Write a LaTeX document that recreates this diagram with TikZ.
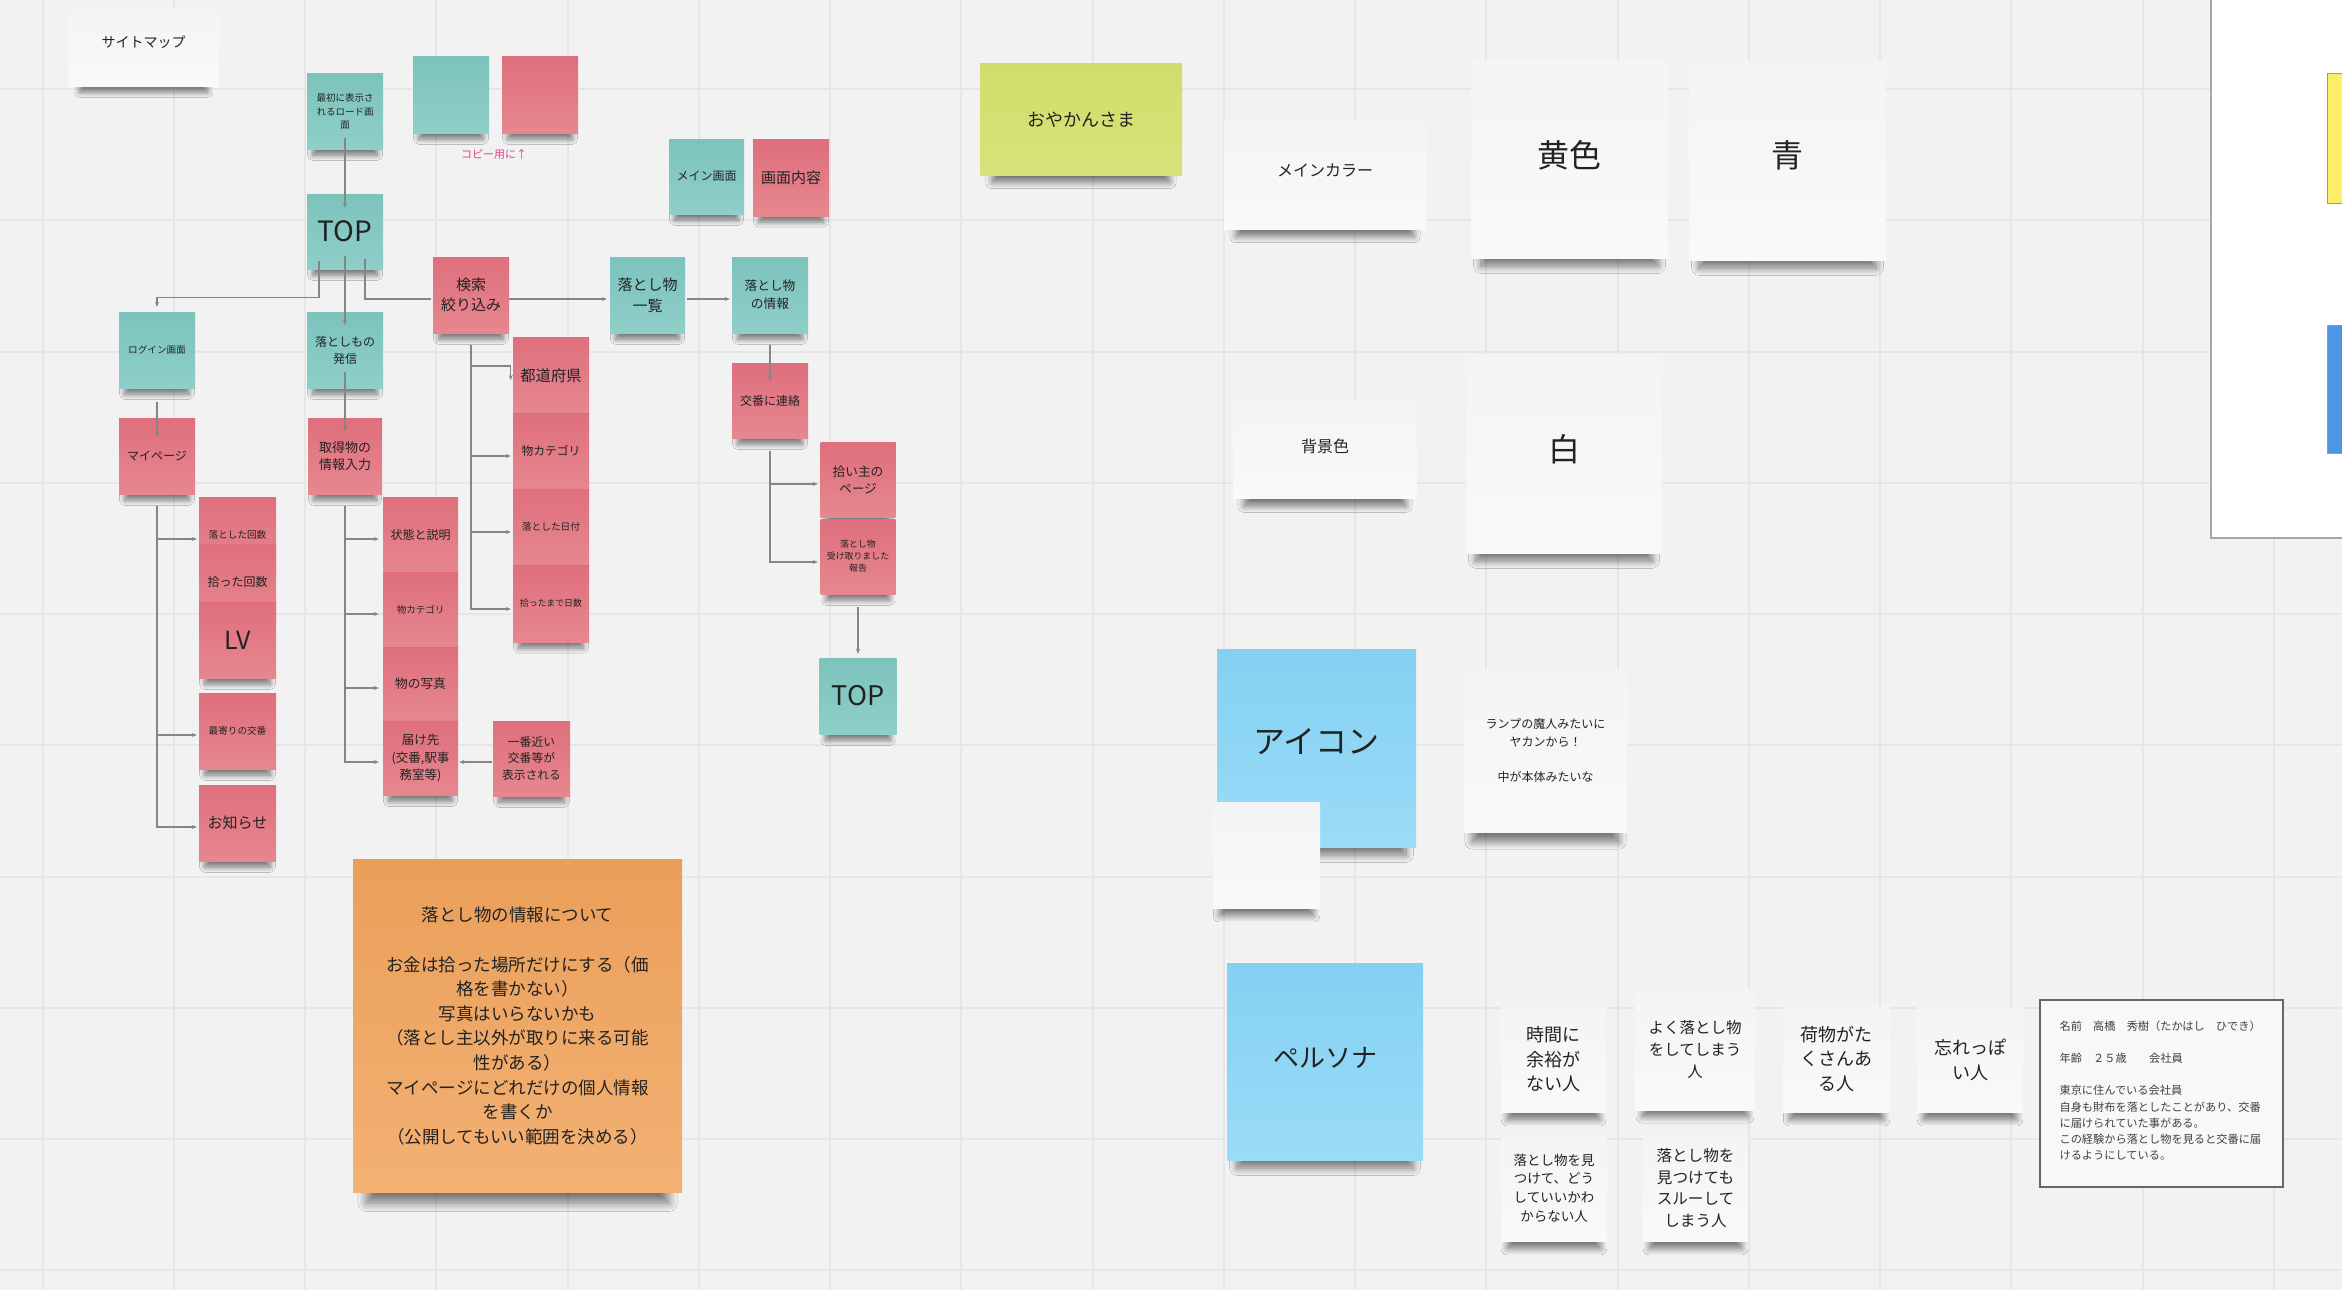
\documentclass[tikz,border=0pt]{standalone}
\usepackage{fontspec}
\setmainfont{Noto Sans CJK JP}
\usetikzlibrary{arrows.meta,shadows.blur}

\definecolor{board}{HTML}{F2F2F2}
\definecolor{gridc}{HTML}{E6E6E6}
\definecolor{tealA}{HTML}{7CC3BC}
\definecolor{tealB}{HTML}{8FCEC9}
\definecolor{pinkA}{HTML}{DF6F7D}
\definecolor{pinkB}{HTML}{E6878F}
\definecolor{blueA}{HTML}{84D0F1}
\definecolor{blueB}{HTML}{9ADCF8}
\definecolor{whiteA}{HTML}{F3F4F6}
\definecolor{whiteB}{HTML}{F8F9FA}
\definecolor{orangeA}{HTML}{EA9F59}
\definecolor{orangeB}{HTML}{F3B174}
\definecolor{limeA}{HTML}{CFDE6B}
\definecolor{limeB}{HTML}{D7E379}
\definecolor{inkc}{HTML}{222222}
\definecolor{linkc}{HTML}{858585}
\definecolor{copyc}{HTML}{E0468A}
\definecolor{swatchY}{HTML}{FCEF66}
\definecolor{swatchB}{HTML}{4D95E5}

\newcommand\fsz[2]{\fontsize{#1}{#2}\selectfont}
% lift a one-line label above the middle of its note
\newcommand\lift[2]{\raisebox{#1}{#2}}

\tikzset{
  gridline/.style={draw=gridc, line width=2pt},
  note/.style 2 args={inner sep=0pt, align=center, text=inkc,
    minimum width=#1pt, minimum height=#2pt},
  smallshadow/.style={blur shadow={shadow xshift=0pt, shadow yshift=-14pt,
    shadow scale=0.85, shadow opacity=50, shadow blur radius=6pt, shadow blur steps=12}},
  midshadow/.style={blur shadow={shadow xshift=0pt, shadow yshift=-16pt,
    shadow scale=0.88, shadow opacity=50, shadow blur radius=7pt, shadow blur steps=12}},
  bigshadow/.style={blur shadow={shadow xshift=0pt, shadow yshift=-20pt,
    shadow scale=0.9, shadow opacity=50, shadow blur radius=8pt, shadow blur steps=14}},
  hugeshadow/.style={blur shadow={shadow xshift=0pt, shadow yshift=-26pt,
    shadow scale=0.92, shadow opacity=50, shadow blur radius=9pt, shadow blur steps=14}},
  tealnote/.style={top color=tealA, bottom color=tealB},
  pinknote/.style={top color=pinkA, bottom color=pinkB},
  bluenote/.style={top color=blueA, bottom color=blueB},
  whitenote/.style={top color=whiteA, bottom color=whiteB, text=black!80},
  orangenote/.style={top color=orangeA, bottom color=orangeB, text=black!80},
  limenote/.style={top color=limeA, bottom color=limeB},
  conn/.style={draw=linkc, line width=1.2pt},
  arr/.style={conn, -{Stealth[length=5pt,width=4pt]}},
}

\begin{document}
\begin{tikzpicture}[x=1pt, y=-1pt]
\useasboundingbox (0,0) rectangle (2342,1290);
\clip (0,0) rectangle (2342,1290);

% board and grid
\fill[board] (0,0) rectangle (2342,1290);
\foreach \i in {0,...,17} \draw[gridline] ({42.5+131.25*\i},0) -- ++(0,1290);
\foreach \j in {0,...,9} \draw[gridline] (0,{89+131.25*\j}) -- ++(2342,0);

% palette frame at the right edge
\draw[draw=black!35, line width=1.5pt, fill=white] (2211,-5) rectangle (2360,538);
\draw[draw=black!40, line width=1pt, fill=swatchY] (2327,74) rectangle (2360,203);
\draw[draw=black!40, line width=1pt, fill=swatchB] (2327,325) rectangle (2360,453);

% ---------------- site map ----------------
\node[whitenote, smallshadow, note={151}{76}, font=\fsz{14}{18}] (sitemap) at (143.5,48) {\lift{12pt}{サイトマップ}};
\node[tealnote, smallshadow, note={76}{75}, font=\fsz{9.5}{13.5}] (load) at (345,111.5) {最初に表示さ\\れるロード画\\面};
\node[tealnote, smallshadow, note={76}{76}] (blankteal) at (451,95) {};
\node[pinknote, smallshadow, note={76}{76}] (blankpink) at (540,95) {};
\node[text=copyc, font=\fsz{11}{14}, inner sep=0pt] (copynote) at (494,154) {コピー用に↑};
\node[tealnote, smallshadow, note={76}{75}, font=\fsz{28}{32}] (top) at (345,231.5) {TOP};

\node[tealnote, smallshadow, note={75}{75}, font=\fsz{12}{15}] (mainscreen) at (706.5,176.5) {メイン画面};
\node[pinknote, smallshadow, note={76}{77}, font=\fsz{15}{18}] (content) at (791,177.5) {画面内容};
\node[limenote, midshadow, note={202}{111}, font=\fsz{18}{22}] (okan) at (1081,119.5) {おやかんさま};

\node[tealnote, smallshadow, note={76}{76}, font=\fsz{9.6}{13}] (login) at (157,350) {ログイン画面};
\node[tealnote, smallshadow, note={76}{76}, font=\fsz{12}{17}] (hassin) at (345,350) {落としもの\\発信};
\node[pinknote, smallshadow, note={76}{76}, font=\fsz{15}{20}] (search) at (471,295) {検索\\絞り込み};
\node[tealnote, smallshadow, note={75}{76}, font=\fsz{15}{21}] (list) at (647.5,295) {落とし物\\一覧};
\node[tealnote, smallshadow, note={76}{76}, font=\fsz{12.7}{18}] (info) at (770,295) {落とし物\\の情報};

\node[pinknote, smallshadow, note={76}{76}, font=\fsz{12}{15}] (mypage) at (157,456) {マイページ};
\node[pinknote, smallshadow, note={74}{76}, font=\fsz{13}{17}] (toku) at (345,456) {取得物の\\情報入力};

% search filters
\node[pinknote, smallshadow, note={76}{76}, font=\fsz{15.3}{18}] (pref) at (551,375.5) {都道府県};
\node[pinknote, smallshadow, note={76}{76}, font=\fsz{11.8}{15}] (cat1) at (551,451) {物カテゴリ};
\node[pinknote, smallshadow, note={76}{76}, font=\fsz{9.7}{12}] (date) at (551,527) {落とした日付};
\node[pinknote, smallshadow, note={76}{77}, font=\fsz{8.9}{12}] (days) at (551,603.5) {拾ったまで日数};

% item detail branch
\node[pinknote, smallshadow, note={76}{75}, font=\fsz{12}{15}] (koban) at (770,400.5) {交番に連絡};
\node[pinknote, smallshadow, note={75}{75}, font=\fsz{12.7}{17}] (owner) at (858,479.5) {拾い主の\\ページ};
\node[pinknote, smallshadow, note={75}{75}, font=\fsz{8.9}{12}] (report) at (858,556.5) {落とし物\\受け取りました\\報告};
\node[tealnote, smallshadow, note={77}{76}, font=\fsz{27}{32}] (top2) at (858,696) {TOP};

% my page contents
\node[pinknote, smallshadow, note={77}{76}, font=\fsz{9.6}{12}] (drop) at (237.5,535) {落とした回数};
\node[pinknote, smallshadow, note={77}{76}, font=\fsz{12}{15}] (pick) at (237.5,582) {拾った回数};
\node[pinknote, smallshadow, note={77}{76}, font=\fsz{25}{30}] (lv) at (237.5,640) {LV};
\node[pinknote, smallshadow, note={77}{76}, font=\fsz{9.6}{12}] (near) at (237.5,731) {最寄りの交番};
\node[pinknote, smallshadow, note={77}{76}, font=\fsz{15}{18}] (news) at (237.5,823) {お知らせ};

% found item input fields
\node[pinknote, smallshadow, note={75}{75}, font=\fsz{12}{15}] (state) at (420.5,534.5) {状態と説明};
\node[pinknote, smallshadow, note={75}{75}, font=\fsz{9.5}{12}] (cat2) at (420.5,609.5) {物カテゴリ};
\node[pinknote, smallshadow, note={75}{74}, font=\fsz{12.7}{15}] (photo) at (420.5,684) {物の写真};
\node[pinknote, smallshadow, note={75}{74}, font=\fsz{12.5}{17.5}] (dest) at (420.5,758) {届け先\\(交番,駅事\\務室等)};
\node[pinknote, smallshadow, note={77}{75}, font=\fsz{11.8}{16.5}] (nearest) at (531.5,758.5) {一番近い\\交番等が\\表示される};

% memo
\node[orangenote, hugeshadow, note={329}{333}, font=\fsz{17.5}{24.6}] (memo) at (517.5,1026) {落とし物の情報について\\[24.6pt]お金は拾った場所だけにする（価\\格を書かない）\\写真はいらないかも\\（落とし主以外が取りに来る可能\\性がある）\\マイページにどれだけの個人情報\\を書くか\\（公開してもいい範囲を決める）};

% ---------------- connectors ----------------
\draw[arr] ([yshift=11pt]load.south) -- ([yshift=-14pt]top.north);
\draw[arr] ([xshift=-26pt,yshift=8pt]top.south) -- ++(0,36) -| ([yshift=5pt]login.north);
\draw[arr] ([yshift=13pt]top.south) -- ([yshift=-13pt]hassin.north);
\draw[conn] ([xshift=20pt,yshift=10pt]top.south) |- ([xshift=-2pt,yshift=-4pt]search.west);
\draw[arr] ([yshift=-4pt]search.east) -- ([xshift=-3pt,yshift=-4pt]list.west);
\draw[arr] ([xshift=2pt,yshift=-4pt]list.east) -- ([xshift=-2pt,yshift=-4pt]info.west);
\draw[arr] ([yshift=-12pt]info.south) -- ([yshift=-18pt]koban.north);
\draw[arr] ([yshift=16pt]hassin.south) -- ([yshift=-14pt]toku.north);
\draw[arr] ([yshift=-14pt]login.south) -- ([yshift=-19pt]mypage.north);
\draw[arr] ([yshift=-13pt]report.south) -- ([yshift=4pt]top2.north);
\draw[arr] ([xshift=-1pt,yshift=-3.5pt]nearest.west) -- ([xshift=1pt,yshift=-4pt]dest.east);

\coordinate (strunk) at ([yshift=-12pt]search.south);
\coordinate (mtrunk) at ([yshift=-12pt]mypage.south);
\coordinate (ttrunk) at ([yshift=-12pt]toku.south);
\coordinate (ktrunk) at ([yshift=-13pt]koban.south);

\draw[arr] (strunk) |- ([xshift=-2pt,yshift=9.5pt]pref.west) -- ([xshift=-2pt,yshift=-4.5pt]pref.west);
\draw[arr] (strunk) |- ([xshift=-2pt,yshift=-5pt]cat1.west);
\draw[arr] (strunk) |- ([xshift=-2pt,yshift=-5pt]date.west);
\draw[arr] (strunk) |- ([xshift=-2pt,yshift=-5.5pt]days.west);

\draw[arr] (mtrunk) |- ([xshift=-2pt,yshift=-4pt]drop.west);
\draw[arr] (mtrunk) |- ([xshift=-2pt,yshift=-4pt]near.west);
\draw[arr] (mtrunk) |- ([xshift=-2pt,yshift=-4pt]news.west);

\draw[arr] (ttrunk) |- ([xshift=-4pt,yshift=-4.5pt]state.west);
\draw[arr] (ttrunk) |- ([xshift=-4pt,yshift=-4.5pt]cat2.west);
\draw[arr] (ttrunk) |- ([xshift=-4pt,yshift=-4pt]photo.west);
\draw[arr] (ttrunk) |- ([xshift=-4pt,yshift=-4pt]dest.west);

\draw[arr] (ktrunk) |- ([xshift=-2.5pt,yshift=-4.5pt]owner.west);
\draw[arr] (ktrunk) |- ([xshift=-2.5pt,yshift=-5.5pt]report.west);

% ---------------- colours & persona ----------------
\node[whitenote, midshadow, note={202}{109}, font=\fsz{16}{20}] (maincolor) at (1325,174.5) {\lift{8pt}{メインカラー}};
\node[whitenote, bigshadow, note={197}{197}, font=\fsz{32}{36}] (yellowcard) at (1569.5,159.5) {\lift{11pt}{黄色}};
\node[whitenote, bigshadow, note={197}{198}, font=\fsz{32}{36}] (bluecard) at (1787.5,161) {\lift{13pt}{青}};
\node[whitenote, midshadow, note={184}{99}, font=\fsz{16}{20}] (bgcolor) at (1325,448.5) {\lift{6pt}{背景色}};
\node[whitenote, bigshadow, note={196}{199}, font=\fsz{32}{36}] (whitecard) at (1564,453.5) {\lift{12pt}{白}};

\node[bluenote, bigshadow, note={199}{198}, font=\fsz{32}{36}] (icon) at (1316.5,748) {\lift{15pt}{アイコン}};
\node[whitenote, midshadow, note={107}{106}] (iconblank) at (1266.5,855) {};
\node[whitenote, bigshadow, note={163}{163}, font=\fsz{12}{17.5}] (lamp) at (1545.5,750.5) {ランプの魔人みたいに\\ヤカンから！\\[17.5pt]中が本体みたいな};

\node[bluenote, bigshadow, note={196}{197}, font=\fsz{26}{30}] (persona) at (1325,1061.5) {\lift{9pt}{ペルソナ}};
\node[whitenote, midshadow, note={105}{105}, font=\fsz{18}{24.5}] (p1) at (1553.5,1059.5) {時間に\\余裕が\\ない人};
\node[whitenote, midshadow, note={120}{121}, font=\fsz{15.5}{22}] (p2) at (1695,1049.5) {よく落とし物\\をしてしまう\\人};
\node[whitenote, midshadow, note={107}{106}, font=\fsz{18}{24.5}] (p3) at (1836.5,1059) {荷物がた\\くさんあ\\る人};
\node[whitenote, midshadow, note={106}{105}, font=\fsz{18}{25}] (p4) at (1970,1059.5) {忘れっぽ\\い人};
\node[whitenote, midshadow, note={106}{106}, font=\fsz{13.5}{18.7}] (p5) at (1554,1188) {落とし物を見\\つけて、どう\\していいかわ\\からない人};
\node[whitenote, midshadow, note={105}{106}, font=\fsz{15.6}{21.7}] (p6) at (1695.5,1188) {落とし物を\\見つけても\\スルーして\\しまう人};

\node[draw=black!60, line width=1.3pt, fill=board!50!white, minimum width=243pt, minimum height=187pt, inner sep=0pt] (profile) at (2161.5,1093.5) {};
\node[anchor=north west, align=left, inner sep=0pt, font=\fsz{11.2}{16.2}, text=black!75] (proftext) at ([xshift=20pt,yshift=-21pt]profile.north west) {名前　高橋　秀樹（たかはし　ひでき）\\[16.2pt]年齢　２５歳　　会社員\\[16.2pt]東京に住んでいる会社員\\自身も財布を落としたことがあり、交番\\に届けられていた事がある。\\この経験から落とし物を見ると交番に届\\けるようにしている。};
\end{tikzpicture}
\end{document}
